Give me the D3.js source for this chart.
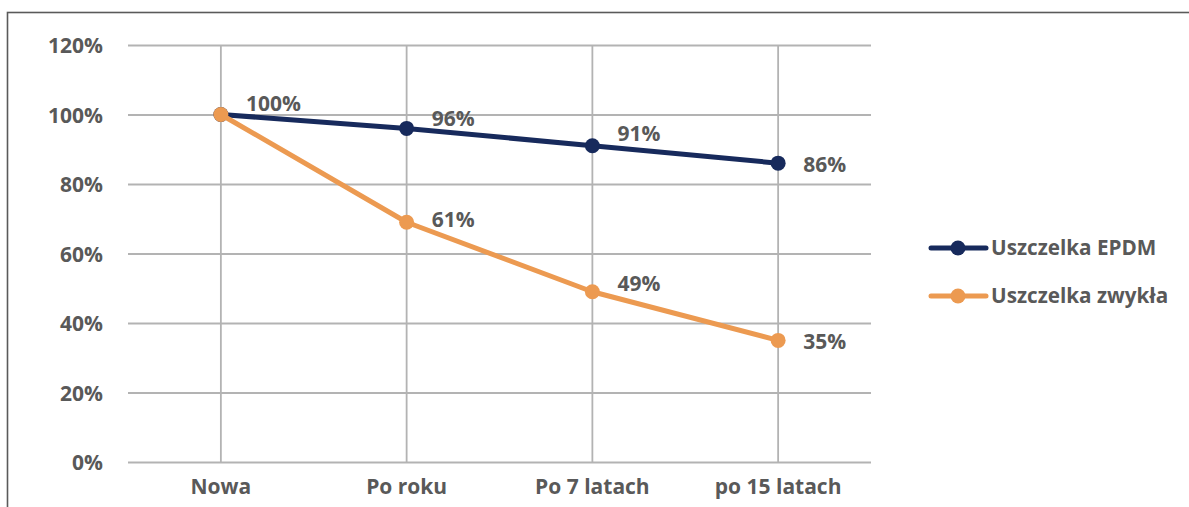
<!DOCTYPE html>
<html>
<head>
<meta charset="utf-8">
<script src="https://cdn.jsdelivr.net/npm/d3@7"></script>
<style>
html,body{margin:0;padding:0;background:#fff;}
svg{display:block;}
text{font-family:"Open Sans",sans-serif;font-weight:700;fill:#595959;}
</style>
</head>
<body>
<svg id="chart" width="1189" height="507"></svg>
<script>
const categories = ["Nowa", "Po roku", "Po 7 latach", "po 15 latach"];
const seriesNames = ["Uszczelka EPDM", "Uszczelka zwykła"];
const epdmValues = [100, 96, 91, 86];
const zwyklaValues = [100, 69, 49, 35];
// data label texts as printed in the chart
const epdmLabels = ["100%", "96%", "91%", "86%"];
const zwyklaLabels = [null, "61%", "49%", "35%"];
const yTicks = [0, 20, 40, 60, 80, 100, 120];
// label vertical nudges (layout only)
const epdmLabelDy = [-11, -10, -12, 1];
const zwyklaLabelDy = [0, -3, -8, 1];

const colors = ["#172a5c", "#ec9a51"];
const svg = d3.select("#chart");

// outer border (top and left visible)
svg.append("rect").attr("x", 7.5).attr("y", 12.5).attr("width", 1200).attr("height", 520)
  .attr("fill", "none").attr("stroke", "#5a5a5a").attr("stroke-width", 1.6);

const x = d3.scaleBand().domain(categories).range([128, 871]);
const y = d3.scaleLinear().domain([0, 120]).range([462, 45]);
const cx = d => x(d) + x.bandwidth() / 2;

// horizontal grid
const yAxis = d3.axisLeft(y).tickValues(yTicks).tickFormat(d => d + "%").tickSize(-(871 - 128)).tickPadding(25);
const gy = svg.append("g").attr("transform", "translate(128,0)").call(yAxis);
gy.select(".domain").remove();
gy.selectAll(".tick line").attr("stroke", "#b3b3b3").attr("stroke-width", 1.8);
gy.selectAll(".tick text").attr("font-size", 21).attr("fill", "#595959").attr("dy", "0.36em")
  .style("font-family", '"Open Sans",sans-serif').style("font-weight", 700);

// vertical grid
svg.append("g").selectAll("line").data(categories).join("line")
  .attr("x1", d => cx(d)).attr("x2", d => cx(d)).attr("y1", y(120)).attr("y2", y(0))
  .attr("stroke", "#b3b3b3").attr("stroke-width", 1.8);

// x labels
const xAxis = d3.axisBottom(x).tickSize(0).tickPadding(17);
const gx = svg.append("g").attr("transform", "translate(0,462)").call(xAxis);
gx.select(".domain").remove();
gx.selectAll(".tick text").attr("font-size", 21).attr("fill", "#595959")
  .style("font-family", '"Open Sans",sans-serif').style("font-weight", 700);

const series = [
  { name: seriesNames[0], values: epdmValues, labels: epdmLabels, dy: epdmLabelDy, color: colors[0] },
  { name: seriesNames[1], values: zwyklaValues, labels: zwyklaLabels, dy: zwyklaLabelDy, color: colors[1] }
];

const line = d3.line().x((d, i) => cx(categories[i])).y(d => y(d));

series.forEach(s => {
  const g = svg.append("g");
  g.append("path").datum(s.values).attr("d", line).attr("fill", "none")
    .attr("stroke", s.color).attr("stroke-width", 5).attr("stroke-linejoin", "round").attr("stroke-linecap", "round");
  g.selectAll("circle").data(s.values).join("circle")
    .attr("cx", (d, i) => cx(categories[i])).attr("cy", d => y(d)).attr("r", 7.5).attr("fill", s.color);
});

series.forEach(s => {
  svg.append("g").selectAll("text")
    .data(s.values.map((v, i) => ({ v, i, t: s.labels[i] })).filter(d => d.t !== null)).join("text")
    .attr("x", d => cx(categories[d.i]) + 25).attr("y", d => y(d.v) + s.dy[d.i])
    .attr("dy", "0.36em").attr("font-size", 21).text(d => d.t);
});

// legend
const legend = svg.append("g");
series.forEach((s, k) => {
  const ly = 248 + k * 48;
  legend.append("line").attr("x1", 931).attr("x2", 986).attr("y1", ly).attr("y2", ly)
    .attr("stroke", s.color).attr("stroke-width", 5).attr("stroke-linecap", "round");
  legend.append("circle").attr("cx", 958).attr("cy", ly).attr("r", 7.5).attr("fill", s.color);
  legend.append("text").attr("x", 991).attr("y", ly).attr("dy", "0.36em").attr("font-size", 20.7).text(s.name);
});
</script>
</body>
</html>
